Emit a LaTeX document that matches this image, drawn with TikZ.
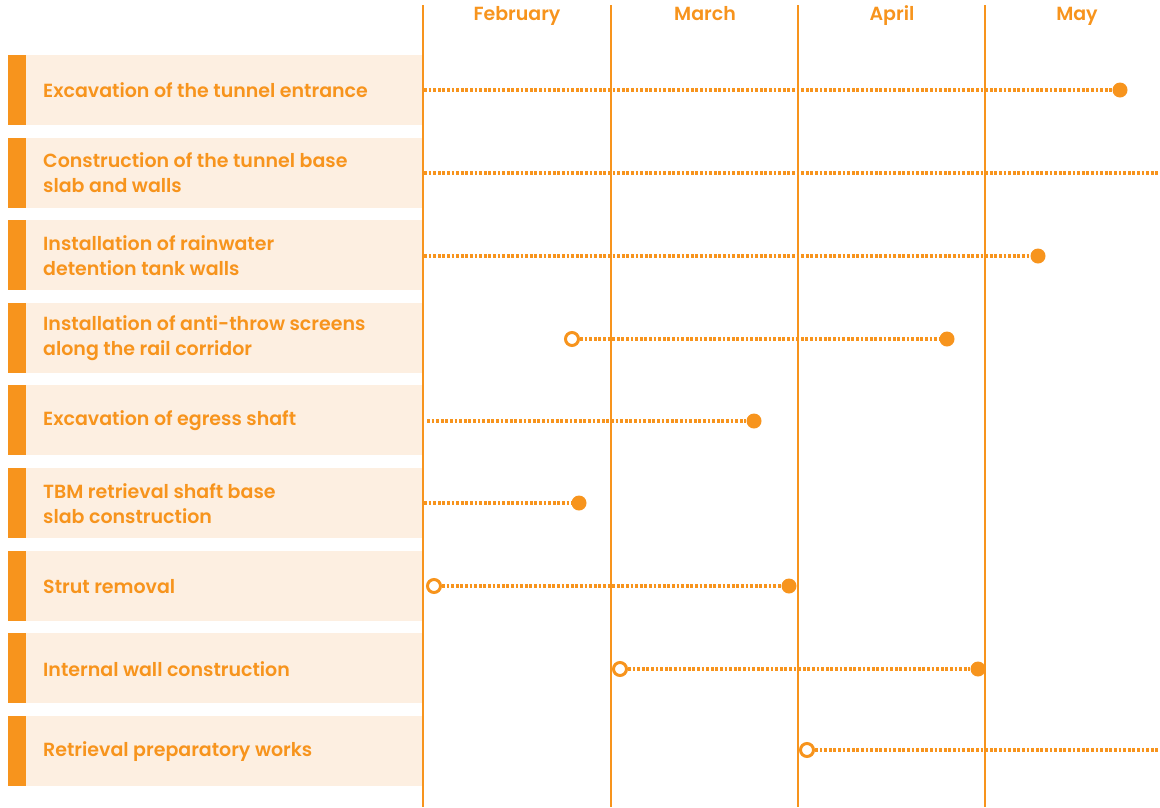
\documentclass[tikz,border=0pt]{standalone}
\usepackage{fontspec}
\setmainfont{Poppins}[UprightFont=* Medium, BoldFont=* SemiBold]
\definecolor{orng}{HTML}{F7941D}
\definecolor{peach}{HTML}{FDEFE1}
\begin{document}
\begin{tikzpicture}[x=1pt,y=-1pt,
  grid/.style={draw=orng,line width=1.3pt},
  rowbg/.style={fill=peach,draw=none},
  rowbar/.style={fill=orng,draw=none},
  label/.style={anchor=west,align=left,text=orng,font=\bfseries\fontsize{19}{25}\selectfont,inner sep=0pt},
  month/.style={anchor=base,text=orng,font=\bfseries\fontsize{19}{21}\selectfont,inner sep=0pt},
  track/.style={draw=orng,line width=3.2pt,dash pattern=on 2.8pt off 1.8pt},
  full/.style={circle,fill=orng,minimum size=15pt,inner sep=0pt},
  hollow/.style={circle,draw=orng,fill=white,line width=3pt,minimum size=13pt,inner sep=0pt}]
\useasboundingbox (0,0) rectangle (1160,807);
% rows
\foreach \i/\t in {0/{Excavation of the tunnel entrance},
  1/{Construction of the tunnel base\\slab and walls},
  2/{Installation of rainwater\\detention tank walls},
  3/{Installation of anti-throw screens\\along the rail corridor},
  4/{Excavation of egress shaft},
  5/{TBM retrieval shaft base\\slab construction},
  6/{Strut removal},
  7/{Internal wall construction},
  8/{Retrieval preparatory works}}{
  \pgfmathsetmacro{\top}{55+82.6*\i}
  \fill[rowbg] (26,\top) rectangle (423,\top+70);
  \fill[rowbar] (8,\top) rectangle (26,\top+70);
  \node[label] (lab\i) at (43,\top+35.5) {\t};
}
% grid
\foreach \x/\m in {423/a,611/b,798/c,985/d}{
  \draw[grid] (\x,5) -- (\x,807);
}
\node[month] (feb) at (517,20) {February};
\node[month] (mar) at (705,20) {March};
\node[month] (apr) at (892,20) {April};
\node[month] (may) at (1077,20) {May};
% tracks
\coordinate (s1) at (424,90);
\node[full] (e1) at (1120,90) {};
\draw[track] (s1) -- (e1);
\coordinate (s2) at (424,173);
\coordinate (e2) at (1162,173);
\draw[track] (s2) -- (e2);
\coordinate (s3) at (424,256);
\node[full] (e3) at (1038,256) {};
\draw[track] (s3) -- (e3);
\node[hollow] (s4) at (572,339) {};
\node[full] (e4) at (947,339) {};
\draw[track] (s4) -- (e4);
\coordinate (s5) at (427,421);
\node[full] (e5) at (754,421) {};
\draw[track] (s5) -- (e5);
\coordinate (s6) at (424,503);
\node[full] (e6) at (579,503) {};
\draw[track] (s6) -- (e6);
\node[hollow] (s7) at (434,586) {};
\node[full] (e7) at (789,586) {};
\draw[track] (s7) -- (e7);
\node[hollow] (s8) at (620,669) {};
\node[full] (e8) at (978,669) {};
\draw[track] (s8) -- (e8);
\node[hollow] (s9) at (807,750) {};
\coordinate (e9) at (1162,750);
\draw[track] (s9) -- (e9);
\end{tikzpicture}
\end{document}
